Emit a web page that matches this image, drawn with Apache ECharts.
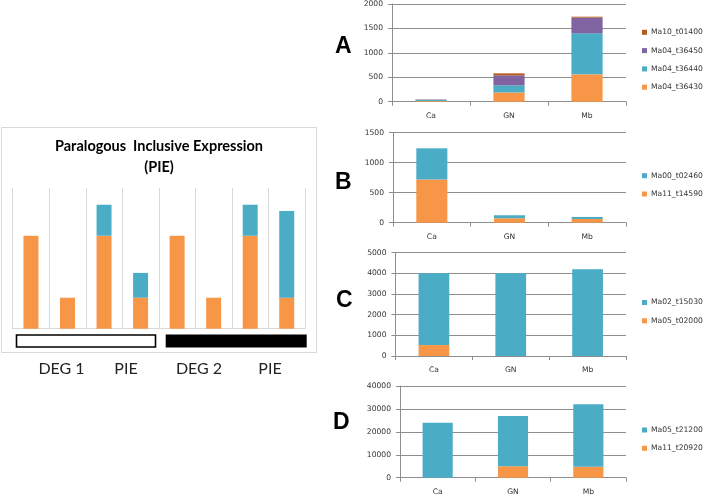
<!DOCTYPE html>
<html>
<head>
<meta charset="utf-8">
<script src="https://cdn.jsdelivr.net/npm/echarts@6/dist/echarts.min.js"></script>
<style>html,body{margin:0;padding:0;background:#fff}#c{width:709px;height:496px}</style>
</head>
<body>
<div id="c"></div>
<script>
// ---- data ----
const leftCats = ['1','2','3','4','5','6','7','8'];
const leftOrange = [3, 1, 3, 1, 3, 1, 3, 1];
const leftBlue = [0, 0, 1, 0.8, 0, 0, 1, 2.8];
const groupLabels = ['DEG 1', 'PIE', 'DEG 2', 'PIE'];

const tissues = ['Ca', 'GN', 'Mb'];
// Panel A
const A_t36430 = [15, 190, 560];
const A_t36440 = [25, 145, 840];
const A_t36450 = [5, 205, 320];
const A_t01400 = [3, 40, 20];
// Panel B
const B_t14590 = [720, 74, 62];
const B_t02460 = [520, 51, 34];
// Panel C
const C_t02000 = [530, 0, 0];
const C_t15030 = [3470, 4000, 4200];
// Panel D
const D_t20920 = [0, 5000, 4800];
const D_t21200 = [24000, 21900, 27200];

const ORANGE = '#F79646', BLUE = '#4BACC6', PURPLE = '#8064A2', BROWN = '#B65A1E';
const GRIDC = '#8e8e8e';
const LBL = {fontFamily: 'DejaVu Sans', fontSize: 7.6, color: '#333'};

const panels = [
  {grid: {left: 392, top: 3.3, width: 234, height: 98.4}, max: 2000, interval: 500,
   series: [['Ma04_t36430', A_t36430, ORANGE], ['Ma04_t36440', A_t36440, BLUE], ['Ma04_t36450', A_t36450, PURPLE], ['Ma10_t01400', A_t01400, BROWN]],
   legendTop: 27.3, letter: 'A', lx: 335, ly: 47},
  {grid: {left: 393, top: 132.7, width: 233, height: 90}, max: 1500, interval: 500,
   series: [['Ma11_t14590', B_t14590, ORANGE], ['Ma00_t02460', B_t02460, BLUE]],
   legendTop: 170.7, letter: 'B', lx: 335, ly: 183},
  {grid: {left: 395.5, top: 252.7, width: 230.5, height: 103.3}, max: 5000, interval: 1000,
   series: [['Ma05_t02000', C_t02000, ORANGE], ['Ma02_t15030', C_t15030, BLUE]],
   legendTop: 297.5, letter: 'C', lx: 336, ly: 301},
  {grid: {left: 400, top: 386, width: 226, height: 91.7}, max: 40000, interval: 10000,
   series: [['Ma11_t20920', D_t20920, ORANGE], ['Ma05_t21200', D_t21200, BLUE]],
   legendTop: 425, letter: 'D', lx: 333, ly: 423}
];

const grids = [{left: 12.7, top: 188, width: 292.3, height: 140.7}];
const xAxes = [{
  type: 'category', gridIndex: 0, data: leftCats,
  axisLine: {lineStyle: {color: '#d9d9d9'}}, axisTick: {show: false}, axisLabel: {show: false},
  splitLine: {show: true, lineStyle: {color: '#d9d9d9'}}
}];
const yAxes = [{type: 'value', gridIndex: 0, min: 0, max: 4.54, show: false, splitLine: {show: false}}];
const series = [
  {type: 'bar', name: 'pieOrange', xAxisIndex: 0, yAxisIndex: 0, stack: 'L', data: leftOrange, barWidth: '41%', itemStyle: {color: ORANGE}, silent: true},
  {type: 'bar', name: 'pieBlue', xAxisIndex: 0, yAxisIndex: 0, stack: 'L', data: leftBlue, barWidth: '41%', itemStyle: {color: BLUE}, silent: true}
];
const legends = [];
const graphics = [
  {type: 'rect', shape: {x: 1.5, y: 127.5, width: 315, height: 225}, style: {fill: '#fff', stroke: '#d9d9d9', lineWidth: 1}, z: -10},
  {type: 'text', x: 159, y: 146, style: {text: 'Paralogous  Inclusive Expression', font: 'bold 14.5px Lato', fill: '#000', align: 'center', verticalAlign: 'middle'}},
  {type: 'text', x: 159, y: 167, style: {text: '(PIE)', font: 'bold 14.5px Lato', fill: '#000', align: 'center', verticalAlign: 'middle'}},
  {type: 'rect', shape: {x: 16.5, y: 335, width: 139, height: 12}, style: {fill: '#fff', stroke: '#000', lineWidth: 1.6}},
  {type: 'rect', shape: {x: 165.7, y: 334.5, width: 141, height: 13}, style: {fill: '#000'}}
];
const glx = [61.5, 126, 199, 270];
groupLabels.forEach((t, i) => graphics.push({type: 'text', x: glx[i], y: 368.5,
  style: {text: t, font: '16px Lato', fill: '#222', align: 'center', verticalAlign: 'middle'}}));

panels.forEach((p, k) => {
  const gi = k + 1;
  grids.push(p.grid);
  xAxes.push({type: 'category', gridIndex: gi, data: tissues,
    axisLine: {lineStyle: {color: GRIDC}}, axisTick: {show: true, length: 4, lineStyle: {color: GRIDC}},
    axisLabel: Object.assign({margin: 10}, LBL)});
  yAxes.push({type: 'value', gridIndex: gi, min: 0, max: p.max, interval: p.interval,
    axisLine: {show: true, lineStyle: {color: GRIDC}}, axisTick: {show: true, length: 4, lineStyle: {color: GRIDC}},
    axisLabel: Object.assign({margin: 9, formatter: v => String(v)}, LBL),
    splitLine: {lineStyle: {color: GRIDC}}});
  p.series.forEach(s => series.push({type: 'bar', name: s[0], xAxisIndex: gi, yAxisIndex: gi,
    stack: 'S' + gi, data: s[1], barWidth: '40%', itemStyle: {color: s[2]}}));
  legends.push({orient: 'vertical', left: 642, top: p.legendTop, padding: 0,
    data: p.series.map(s => s[0]).reverse(), icon: 'rect', itemWidth: 5, itemHeight: 5,
    itemGap: 8.3, selectedMode: false,
    textStyle: {fontFamily: 'DejaVu Sans', fontSize: 7.6, color: '#333', lineHeight: 10, padding: [0, 0, 0, -1]}});
  graphics.push({type: 'text', x: p.lx, y: p.ly,
    style: {text: p.letter, font: 'bold 23px "Liberation Sans"', fill: '#000', verticalAlign: 'middle'}});
});

const chart = echarts.init(document.getElementById('c'), null, {renderer: 'canvas'});
chart.setOption({
  animation: false,
  grid: grids, xAxis: xAxes, yAxis: yAxes, series: series, legend: legends,
  graphic: graphics
});
</script>
</body>
</html>
